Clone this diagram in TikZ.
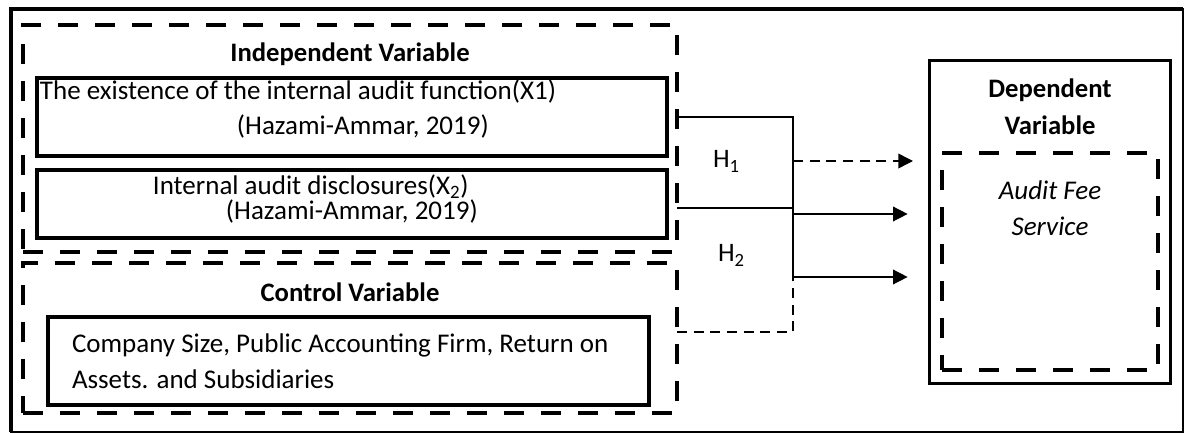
\documentclass[tikz,border=0pt]{standalone}
\usepackage{fontspec}
\setmainfont{Carlito}
\usetikzlibrary{arrows.meta,positioning}

\begin{document}
\begin{tikzpicture}[x=0.75pt,y=-0.75pt,>={Triangle[length=11pt,width=11pt]},
    font=\fontsize{20}{26}\selectfont,
    every node/.style={inner sep=0pt,outer sep=0pt},
    solidbox/.style={draw,line width=3pt,anchor=north west},
    dashbox/.style={draw,line width=3pt,dash pattern=on 15pt off 12.75pt,anchor=north west},
    head/.style={font=\fontsize{20}{27.75}\selectfont\bfseries,align=center},
    txt/.style={anchor=base west,align=left},
    link/.style={line width=1.1pt},
    dashlink/.style={link,dash pattern=on 7.5pt off 5pt}]
    \useasboundingbox (0,0) rectangle (1186,434);
    % outer frame
    \draw[line width=1.1pt] (11,9) rectangle (1183,432);
    \draw[line width=3pt] (11,432) -- (11,9) -- (1183,9);
    % groups on the left
    \node[dashbox,minimum width=490.5pt,minimum height=170.25pt] (indep) at (23,25) {};
    \node[dashbox,minimum width=490.5pt,minimum height=112.5pt,below=8.25pt of indep] (ctrl) {};
    \node[head,anchor=base] (indeplabel) at (350,62) {Independent Variable};
    \node[head,anchor=base] (ctrllabel) at (350,302) {Control Variable};
    \node[solidbox,minimum width=472.5pt,minimum height=58.5pt] (x1) at (37,78) {};
    \node[solidbox,minimum width=472.5pt,minimum height=51pt,below=10.5pt of x1] (x2) {};
    \node[solidbox,minimum width=450.75pt,minimum height=66pt] (cv) at (48,317) {};
    \node[txt,font=\fontsize{20.25}{26.25}\selectfont] (x1text) at (40,135)
        {The existence of the internal audit function(X1)\\\hspace*{147.75pt}(Hazami-Ammar, 2019)};
    \node[txt,font=\fontsize{20.25}{17.5}\selectfont] (x2text) at (40,220)
        {\hspace*{84.75pt}Internal audit disclosures(X\textsubscript{2})\\\hspace*{139.5pt}(Hazami-Ammar, 2019)};
    \node[txt,font=\fontsize{20.25}{27}\selectfont] (cvtext) at (72,389)
        {Company Size, Public Accounting Firm, Return on\\Assets. and Subsidiaries};
    % dependent side
    \node[draw,line width=2.25pt,anchor=north west,minimum width=180.75pt,minimum height=242.25pt] (dep) at (929,61) {};
    \node[head,anchor=base] (deplabel) at (1050,135) {Dependent\\Variable};
    \node[dashbox,minimum width=162pt,minimum height=162.75pt] (fee) at (942,153) {};
    \node[align=center,anchor=base,font=\fontsize{20.25}{27}\selectfont\itshape] (feelabel) at (1050,236) {Audit Fee\\Service};
    % hypotheses
    \coordinate (j0) at (793,161);
    \coordinate (j1) at (793,208);
    \coordinate (j2) at (793,277);
    \coordinate (j3) at (793,332);
    \coordinate (a1) at (793,214);
    \draw[link] (indep.east |- x1.east) -| (j1) -- (j2);
    \draw[link] (indep.east |- j1) -- (j1);
    \draw[dashlink] (ctrl.east |- j3) -- (j3) -- (j0);
    \draw[dashlink,->] (j0) -- ([xshift=-12pt]dep.west |- j0);
    \draw[link,->] (a1) -- ([xshift=-16pt]dep.west |- a1);
    \draw[link,->] (j2) -- ([xshift=-16pt]dep.west |- j2);
    \node[anchor=base west] (h1) at (713,168) {H\textsubscript{1}};
    \node[anchor=base west] (h2) at (718,262) {H\textsubscript{2}};
\end{tikzpicture}
\end{document}
